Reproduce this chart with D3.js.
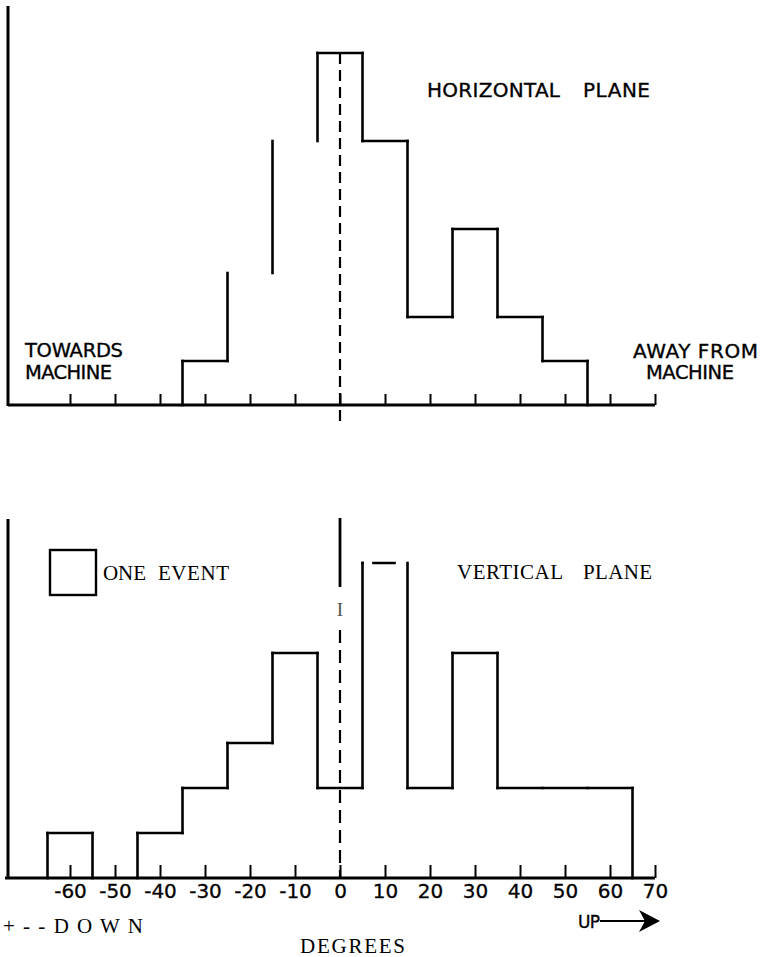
<!DOCTYPE html>
<html><head><meta charset="utf-8">
<script src="https://cdn.jsdelivr.net/npm/d3@7"></script>
<style>html,body{margin:0;padding:0;background:#fff;} svg{display:block}</style>
</head><body><svg id="c" width="762" height="957"></svg>
<script>
// ---- data ----
const binEdgesH = [-35, -25, -15, -5, 5, 15, 25, 35, 45, 55];
const countsH   = [1, 3, 6, 8, 6, 2, 4, 2, 1];
const binEdgesV = [-65, -55, -45, -35, -25, -15, -5, 5, 15, 25, 35, 45, 55, 65];
const countsV   = [1, 0, 1, 2, 3, 5, 2, 7, 2, 5, 2, 2, 2];
const tickValues = [-60, -50, -40, -30, -20, -10, 0, 10, 20, 30, 40, 50, 60, 70];
const tickLabels = ["-60", "-50", "-40", "-30", "-20", "-10", "0", "10", "20", "30", "40", "50", "60", "70"];
// bin centres whose top edge did not print in the original scan
const unprintedTopsH = [-20, -10];
const partialTopsV = [10];

const svg = d3.select("#c");
const x = d3.scaleLinear().domain([-60, 70]).range([70, 655]);
const yH = d3.scaleLinear().domain([0, 8]).range([405, 53]);
const yV = d3.scaleLinear().domain([0, 7]).range([878, 563]);
const AX_LEFT = 8;

function outline(edges, counts) {
  const segs = [];
  segs.push({t: "v", x: edges[0], a: 0, b: counts[0]});
  counts.forEach((c, i) => {
    if (c > 0) segs.push({t: "h", y: c, a: edges[i], b: edges[i + 1], c: (edges[i] + edges[i + 1]) / 2});
    const next = i < counts.length - 1 ? counts[i + 1] : 0;
    if (next !== c) segs.push({t: "v", x: edges[i + 1], a: c, b: next});
  });
  return segs;
}

function drawHist(g, edges, counts, y, skip, partial) {
  const segs = outline(edges, counts).filter(s => !(s.t === "h" && skip.includes(s.c)));
  g.selectAll("line.h").data(segs).join("line")
    .attr("x1", s => s.t === "v" ? x(s.x) : x(s.a))
    .attr("x2", s => s.t === "v" ? x(s.x) : x(s.b))
    .attr("y1", s => s.t === "v" ? y(s.a) : y(s.y))
    .attr("y2", s => s.t === "v" ? y(s.b) : y(s.y))
    .attr("stroke", "#000").attr("stroke-width", 2.6).attr("stroke-linecap", "square")
    .attr("stroke-dasharray", s => (s.t === "h" && partial.includes(s.c)) ? "0,11,21,60" : null);
}

// ---------- TOP: horizontal plane ----------
const gT = svg.append("g");
gT.append("g").attr("transform", "translate(0,405)")
  .call(d3.axisBottom(x).tickValues(tickValues).tickSize(-11).tickSizeOuter(0).tickFormat(""))
  .call(a => a.select(".domain").remove())
  .call(a => a.selectAll("line").attr("stroke", "#000").attr("stroke-width", 2));
gT.append("line").attr("x1", AX_LEFT).attr("x2", x(70)).attr("y1", 405).attr("y2", 405)
  .attr("stroke", "#000").attr("stroke-width", 3.2);
gT.append("line").attr("x1", AX_LEFT).attr("x2", AX_LEFT).attr("y1", 6).attr("y2", 406)
  .attr("stroke", "#000").attr("stroke-width", 3);
drawHist(gT, binEdgesH, countsH, yH, unprintedTopsH, []);
gT.append("line").attr("x1", x(0)).attr("x2", x(0)).attr("y1", yH(8)).attr("y2", 425)
  .attr("stroke", "#000").attr("stroke-width", 2.2).attr("stroke-dasharray", "11,6");

const sans = "'DejaVu Sans', sans-serif";
const serif = "'Liberation Serif', serif";
function label(g, txt, xx, yy, len, size, fam) {
  const t = g.append("text").attr("x", xx).attr("y", yy).attr("textLength", len)
    .attr("lengthAdjust", "spacing").attr("font-family", fam).attr("font-size", size)
    .attr("fill", "#000").text(txt);
  if (fam === sans) t.attr("stroke", "#000").attr("stroke-width", 0.35);
  return t;
}
label(gT, "HORIZONTAL", 427, 97, 133, 20, sans);
label(gT, "PLANE", 583, 97, 67, 20, sans);
label(gT, "TOWARDS", 25, 357, 98, 19.5, sans);
label(gT, "MACHINE", 25, 379, 87, 19.5, sans);
label(gT, "AWAY FROM", 633, 358, 125, 20, sans);
label(gT, "MACHINE", 646, 379, 88, 19.5, sans);

// ---------- BOTTOM: vertical plane ----------
const gB = svg.append("g");
gB.append("g").attr("transform", "translate(0,878)")
  .call(d3.axisBottom(x).tickValues(tickValues).tickSize(-13).tickSizeOuter(0).tickPadding(6)
    .tickFormat((d, i) => tickLabels[i]))
  .call(a => a.select(".domain").remove())
  .call(a => a.selectAll("line").attr("stroke", "#000").attr("stroke-width", 2))
  .call(a => a.selectAll("text").attr("font-family", sans).attr("font-size", 20)
    .attr("fill", "#000").attr("stroke", "#000").attr("stroke-width", 0.3));
gB.append("line").attr("x1", AX_LEFT - 3).attr("x2", x(70)).attr("y1", 878).attr("y2", 878)
  .attr("stroke", "#000").attr("stroke-width", 3.2);
gB.append("line").attr("x1", AX_LEFT).attr("x2", AX_LEFT).attr("y1", 519).attr("y2", 879)
  .attr("stroke", "#000").attr("stroke-width", 3);
drawHist(gB, binEdgesV, countsV, yV, [], partialTopsV);
// zero reference line: solid top piece, then dashes
gB.append("line").attr("x1", x(0)).attr("x2", x(0)).attr("y1", 518).attr("y2", 587)
  .attr("stroke", "#000").attr("stroke-width", 2.8);
gB.append("line").attr("x1", x(0)).attr("x2", x(0)).attr("y1", 630).attr("y2", 878)
  .attr("stroke", "#000").attr("stroke-width", 2.2).attr("stroke-dasharray", "13,7");
gB.append("text").attr("x", x(0)).attr("y", 616).attr("text-anchor", "middle")
  .attr("font-family", serif).attr("font-size", 19).attr("fill", "#555").text("I");

// legend square
gB.append("rect").attr("x", 50).attr("y", 550).attr("width", 46).attr("height", 45)
  .attr("fill", "none").attr("stroke", "#000").attr("stroke-width", 2.4);
label(gB, "ONE", 103, 580, 43, 21, serif);
label(gB, "EVENT", 158, 580, 71, 21, serif);
label(gB, "VERTICAL", 457, 579, 106, 21, serif);
label(gB, "PLANE", 583, 579, 69, 21, serif);
label(gB, "+ - - D O W N", 3, 933, 140, 21, serif);
label(gB, "DEGREES", 300, 953, 105, 21, serif);
label(gB, "UP", 578, 928, 22, 17, sans);
gB.append("line").attr("x1", 600).attr("x2", 648).attr("y1", 921).attr("y2", 921)
  .attr("stroke", "#000").attr("stroke-width", 2.2);
gB.append("path").attr("d", "M660,921 L639,910 L645,921 L639,932 Z").attr("fill", "#000");
</script>
</body></html>
